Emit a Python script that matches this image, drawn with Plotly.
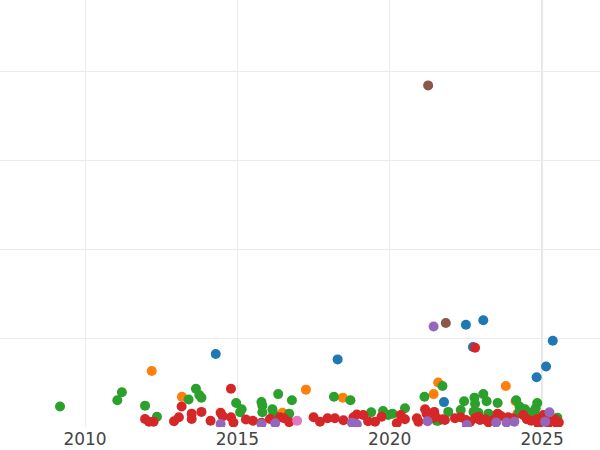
import plotly.graph_objects as go

# category -> (years, values)
blue_x = [2014.29, 2018.29, 2022.50, 2023.07, 2022.73, 2025.35, 2025.13, 2024.82, 2021.78]
blue_y = [0.82, 0.76, 1.15, 1.20, 0.90, 0.97, 0.68, 0.56, 0.28]

orange_x = [2012.19, 2013.18, 2017.25, 2018.46, 2021.59, 2021.44, 2023.81, 2016.48, 2024.13, 2024.19]
orange_y = [0.63, 0.34, 0.42, 0.33, 0.50, 0.37, 0.46, 0.16, 0.29, 0.15]

green_x = [2009.18, 2011.21, 2011.06, 2011.97, 2012.36, 2013.40, 2013.64, 2013.75, 2013.82,
           2014.96, 2015.14, 2015.09, 2015.79, 2015.82, 2015.82, 2016.15, 2016.18, 2016.34,
           2016.79, 2016.70, 2018.17, 2018.71, 2019.39, 2019.78, 2020.09, 2019.95, 2020.50,
           2021.14, 2021.73, 2021.54, 2022.44, 2022.78, 2023.07, 2023.18, 2022.80, 2022.75,
           2022.33, 2023.54, 2021.92, 2021.59, 2022.91, 2023.24, 2024.15, 2024.26, 2024.36,
           2024.44, 2024.84, 2024.79, 2024.70, 2024.58, 2024.75, 2024.24, 2025.50]
green_y = [0.23, 0.39, 0.30, 0.24, 0.116, 0.31, 0.43, 0.36, 0.33,
           0.27, 0.20, 0.165, 0.28, 0.24, 0.165, 0.20, 0.15, 0.37,
           0.30, 0.15, 0.34, 0.30, 0.165, 0.18, 0.15, 0.135, 0.21,
           0.34, 0.46, 0.07, 0.29, 0.33, 0.37, 0.29, 0.26, 0.17,
           0.19, 0.27, 0.17, 0.07, 0.16, 0.15, 0.30, 0.23, 0.20,
           0.20, 0.27, 0.21, 0.17, 0.135, 0.15, 0.16, 0.105]

red_x = [2011.97, 2012.10, 2012.25, 2012.92, 2013.08, 2013.17, 2013.50, 2013.50, 2013.82,
         2014.12, 2014.45, 2014.52, 2014.79, 2014.79, 2014.87, 2015.28, 2015.51, 2015.79,
         2016.07, 2016.40, 2016.53, 2016.70, 2017.50, 2017.71, 2017.96, 2018.20, 2018.48,
         2018.81, 2018.92, 2019.13, 2019.29, 2019.52, 2019.73, 2020.23, 2020.36, 2020.50,
         2020.89, 2020.94, 2021.16, 2021.21, 2021.46, 2021.49, 2021.73, 2021.44, 2021.81,
         2022.14, 2022.33, 2022.50, 2022.64, 2022.80, 2022.96, 2023.13, 2023.24, 2023.40,
         2022.91, 2023.54, 2023.65, 2023.89, 2024.06, 2024.38, 2024.50, 2024.64, 2024.82,
         2024.99, 2025.19, 2025.32, 2025.42, 2025.48, 2025.04, 2025.21, 2024.88, 2025.55,
         2022.80]
red_y = [0.09, 0.06, 0.06, 0.065, 0.11, 0.23, 0.15, 0.09, 0.17,
         0.07, 0.16, 0.12, 0.43, 0.11, 0.05, 0.085, 0.07, 0.048,
         0.09, 0.11, 0.098, 0.055, 0.11, 0.06, 0.098, 0.098, 0.075,
         0.11, 0.14, 0.135, 0.065, 0.06, 0.116, 0.042, 0.135, 0.087,
         0.098, 0.06, 0.20, 0.15, 0.17, 0.124, 0.087, 0.105, 0.079,
         0.098, 0.109, 0.079, 0.06, 0.098, 0.079, 0.087, 0.053, 0.079,
         0.116, 0.15, 0.124, 0.109, 0.098, 0.135, 0.087, 0.07, 0.087,
         0.06, 0.098, 0.07, 0.087, 0.042, 0.135, 0.042, 0.034, 0.05,
         0.89]

purple_x = [2014.45, 2015.79, 2016.24, 2018.76, 2018.92, 2021.24, 2022.53, 2023.49,
            2023.83, 2024.09, 2025.10, 2025.24, 2021.44]
purple_y = [0.034, 0.034, 0.042, 0.048, 0.03, 0.064, 0.022, 0.05,
            0.05, 0.06, 0.06, 0.165, 1.13]

brown_x = [2021.26, 2021.84]
brown_y = [3.84, 1.17]

pink_x = [2016.96]
pink_y = [0.07]

series = [
    (blue_x, blue_y, "#1f77b4"),
    (orange_x, orange_y, "#ff7f0e"),
    (green_x, green_y, "#2ca02c"),
    (red_x, red_y, "#d62728"),
    (purple_x, purple_y, "#9467bd"),
    (brown_x, brown_y, "#8c564b"),
    (pink_x, pink_y, "#e377c2"),
]

fig = go.Figure()
for xs, ys, color in series:
    fig.add_trace(go.Scatter(x=xs, y=ys, mode="markers",
                             marker=dict(size=10, color=color)))

fig.add_shape(type="line", x0=2025, x1=2025, y0=0, y1=1, yref="paper",
              line=dict(color="#e3e3e3", width=2), layer="below")

fig.update_layout(
    width=600, height=450,
    template="plotly_white",
    showlegend=False,
    margin=dict(l=0, r=0, t=0, b=23),
    font=dict(family="DejaVu Sans", size=17, color="#444"),
    xaxis=dict(range=[2007.21, 2026.90], dtick=5, tick0=2010, gridcolor="#ebebeb",
               zeroline=False, automargin=False, ticks=""),
    yaxis=dict(range=[0, 4.8], dtick=1, gridcolor="#ebebeb", zeroline=False,
               showticklabels=False, automargin=False),
)

# the page body gets no default margin so the figure sits at the window's corner
fig.write_html("out.html", config={"displayModeBar": False},
               post_script="document.body.style.margin = '0';")
